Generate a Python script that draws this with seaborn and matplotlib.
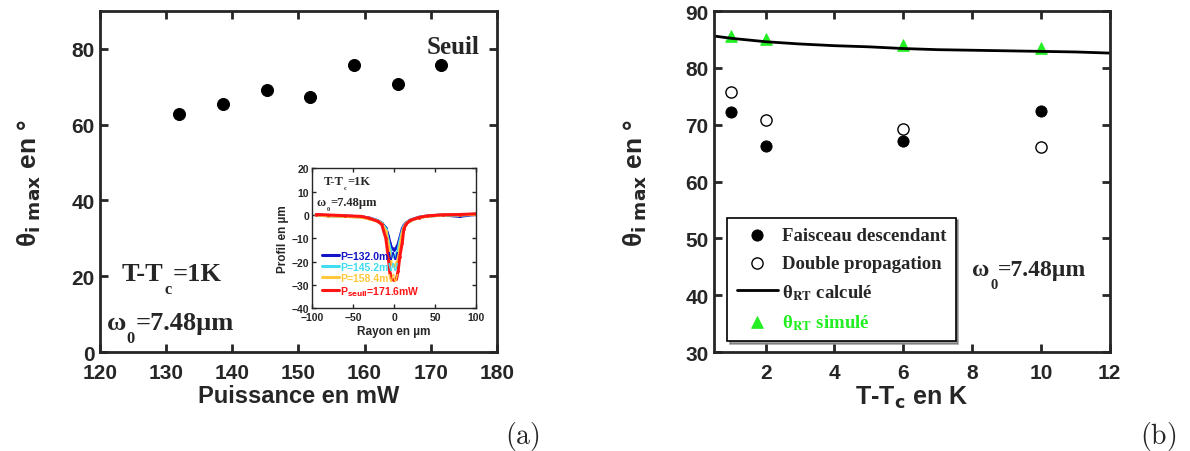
import numpy as np
import pandas as pd
import matplotlib
matplotlib.use('Agg')
import matplotlib.pyplot as plt
from matplotlib.font_manager import FontProperties
import seaborn as sns

sns.set_style('ticks')
plt.rcParams['font.family'] = ['Liberation Sans', 'DejaVu Sans']
plt.rcParams['axes.linewidth'] = 2.0

# (a) theta_i max vs puissance
puissance = [132.0, 138.6, 145.2, 151.8, 158.4, 165.0, 171.6]
theta_a = [62.7, 65.5, 69.2, 67.2, 75.7, 70.8, 75.7]

# inset : profils
rayon = [-95, -80, -60, -40, -30, -20, -15, -10, -7, -5, -3, 0, 3, 5, 7, 10, 12, 15, 20, 30, 40, 60, 80, 100]
prof_132 = [0.0, -0.3, -0.5, -0.8, -1.3, -2.4, -3.5, -5.5, -9.0, -12.0, -14.0, -15.0, -14.0, -12.5, -10.0, -6.0, -4.5, -3.3, -2.2, -1.0, -0.5, 0.0, -0.6, 0.3]
prof_145 = [0.0, -0.3, -0.5, -0.8, -1.4, -2.5, -3.6, -6.0, -11.0, -14.5, -17.0, -18.0, -17.0, -15.0, -11.5, -7.0, -5.0, -3.5, -2.3, -1.1, -0.5, 0.0, 0.0, 0.3]
prof_158 = [0.0, -0.4, -0.6, -1.0, -1.6, -2.7, -3.8, -7.0, -13.0, -18.0, -21.0, -22.0, -21.0, -19.0, -14.0, -8.0, -5.5, -3.6, -2.4, -1.2, -0.6, 0.0, 0.0, 0.3]
prof_172 = [0.2, 0.0, -0.3, -0.6, -1.4, -2.7, -4.0, -10.0, -18.0, -25.0, -27.5, -28.0, -27.5, -24.0, -18.0, -12.0, -6.0, -3.8, -2.3, -1.1, -0.4, 0.1, 0.2, 0.5]
prof_labels = ['P=132.0mW', 'P=145.2mW', 'P=158.4mW', r'P$_\mathbf{seuil}$=171.6mW']
prof_colors = ['#1414c8', '#40dcf0', '#ffc83c', '#ff1414']

# (b) theta_i max vs T-Tc
dT = [1, 2, 6, 10]
faisceau = [72.3, 66.3, 67.2, 72.4]
double_prop = [75.7, 70.9, 69.2, 66.0]
dT_calc = [0.5, 1, 2, 3, 4, 5, 6, 7, 8, 9, 10, 11, 12]
theta_calc = [85.6, 85.2, 84.6, 84.2, 83.9, 83.7, 83.4, 83.2, 83.1, 83.0, 82.9, 82.8, 82.6]
theta_sim = [85.6, 85.0, 84.0, 83.5]

serif_b = dict(family='Liberation Serif', weight='bold')
green = '#22ee22'


def style_axes(ax, size, length=6, width=2):
    ax.tick_params(direction='in', top=True, right=True, length=length, width=width,
                   labelsize=size, pad=4)
    ax.tick_params(axis='x', pad=8)
    for lab in ax.get_xticklabels() + ax.get_yticklabels():
        lab.set_fontweight('bold')
    for sp in ax.spines.values():
        sp.set_visible(True)


def sub_text(ax, x, y, pieces, size, transform=None, drop=0.45, ratio=0.62):
    # pieces: list of (text, is_subscript); subscripts drawn smaller and lowered
    transform = transform or ax.transData
    first = ax.text(x, y, pieces[0][0], fontsize=size, transform=transform,
                    ha='left', va='bottom', **serif_b)
    prev = first
    for txt, is_sub in pieces[1:]:
        fs = size * ratio if is_sub else size
        dy = -drop * size if is_sub else 0
        prev = ax.annotate(txt, xy=(1, 0), xycoords=(prev, first), xytext=(0.5, dy),
                           textcoords='offset points', fontsize=fs, ha='left',
                           va='bottom', **serif_b)
    return first


fig = plt.figure(figsize=(11.9, 4.52), dpi=100)

# ---- panel (a)
ax1 = fig.add_axes([0.0840, 0.2190, 0.3336, 0.7544])
sns.scatterplot(x=puissance, y=theta_a, color='black', s=75, edgecolor='black', ax=ax1)
ax1.set_xlim(120, 180)
ax1.set_ylim(0, 90)
ax1.set_xticks([120, 130, 140, 150, 160, 170, 180])
ax1.set_yticks([0, 20, 40, 60, 80])
style_axes(ax1, 15)
ax1.set_xlabel('Puissance en mW', fontsize=17, fontweight='bold', labelpad=1)
ax1.set_ylabel(r'θ$_\mathbf{i\ max}$ en °', fontsize=19, fontweight='bold', labelpad=20,
               math_fontfamily='dejavusans')
ax1.text(177.3, 79, 'Seuil', fontsize=18, ha='right', va='baseline', **serif_b)
sub_text(ax1, 123.3, 17.6, [('T-T', False), ('c', True), ('=1K', False)], 19)
sub_text(ax1, 121.0, 4.7, [('ω', False), ('0', True), ('=7.48µm', False)], 19)

# ---- inset
axi = fig.add_axes([0.2622, 0.3157, 0.1378, 0.3097])
for prof, lab, col in zip([prof_132, prof_145, prof_158, prof_172], prof_labels, prof_colors):
    sns.lineplot(x=rayon, y=prof, color=col, linewidth=2.2, marker='.', markersize=4,
                 markeredgewidth=0, label=lab, ax=axi)
axi.set_xlim(-100, 100)
axi.set_ylim(-40, 20)
axi.set_xticks([-100, -50, 0, 50, 100])
axi.set_yticks([-40, -30, -20, -10, 0, 10, 20])
axi.tick_params(direction='in', top=True, right=True, length=3, width=1, labelsize=7.5, pad=2)
axi.tick_params(axis='x', pad=3)
for lab in axi.get_xticklabels() + axi.get_yticklabels():
    lab.set_fontweight('bold')
for sp in axi.spines.values():
    sp.set_linewidth(1.0)
axi.set_xlabel('Rayon en µm', fontsize=8.5, fontweight='bold', labelpad=2)
axi.set_ylabel('Profil en µm', fontsize=8.5, fontweight='bold', labelpad=2)
sub_text(axi, 0.07, 0.87, [('T-T', False), ('c', True), ('=1K', False)], 9,
         transform=axi.transAxes, drop=0.25, ratio=0.5)
sub_text(axi, 0.03, 0.72, [('ω', False), ('0', True), ('=7.48µm', False)], 9,
         transform=axi.transAxes, drop=0.25, ratio=0.5)
axi.legend(loc='lower left', bbox_to_anchor=(0.0, 0.0), frameon=False,
           prop=FontProperties(family='Liberation Sans', weight='bold', size=7.5),
           labelcolor='linecolor', handlelength=1.6, handletextpad=0.1, labelspacing=0.1,
           borderaxespad=0.6)

# ---- panel (b)
ax2 = fig.add_axes([0.6000, 0.2190, 0.3325, 0.7544])
sns.scatterplot(x=dT, y=faisceau, color='black', s=65, edgecolor='black',
                label='Faisceau descendant', ax=ax2)
sns.scatterplot(x=dT, y=double_prop, facecolor='white', s=65, edgecolor='black',
                linewidth=1.0, label='Double propagation', ax=ax2)
sns.lineplot(x=dT_calc, y=theta_calc, color='black', linewidth=2.0,
             label=r'θ$_\mathbf{RT}$ calculé', ax=ax2)
sns.scatterplot(x=dT, y=theta_sim, color=green, marker='^', s=70, edgecolor=green,
                label=r'θ$_\mathbf{RT}$ simulé', ax=ax2)
ax2.set_xlim(0.5, 12)
ax2.set_ylim(30, 90)
ax2.set_xticks([2, 4, 6, 8, 10, 12])
ax2.set_yticks([30, 40, 50, 60, 70, 80, 90])
style_axes(ax2, 15)
ax2.set_xlabel(r'T-T$_\mathbf{c}$ en K', fontsize=18, fontweight='bold', labelpad=1,
               math_fontfamily='dejavusans')
ax2.set_ylabel(r'θ$_\mathbf{i\ max}$ en °', fontsize=19, fontweight='bold', labelpad=26,
               math_fontfamily='dejavusans')
sub_text(ax2, 8.0, 42.6, [('ω', False), ('0', True), ('=7.48µm', False)], 17)
leg = ax2.legend(loc='lower left', bbox_to_anchor=(0.01, 0.005), shadow=True, fancybox=False,
                 edgecolor='black', framealpha=1,
                 prop=FontProperties(family='Liberation Serif', weight='bold', size=13.5,
                                     math_fontfamily='stix'),
                 handlelength=2.2, handletextpad=0.2, labelspacing=0.55, borderpad=0.5)
leg.get_frame().set_linewidth(1.2)
leg.get_texts()[3].set_color(green)

fig.text(0.424, 0.018, r'$\mathrm{(a)}$', fontsize=20, math_fontfamily='cm')
fig.text(0.958, 0.018, r'$\mathrm{(b)}$', fontsize=20, math_fontfamily='cm')

fig.savefig('out.png', dpi=100)
